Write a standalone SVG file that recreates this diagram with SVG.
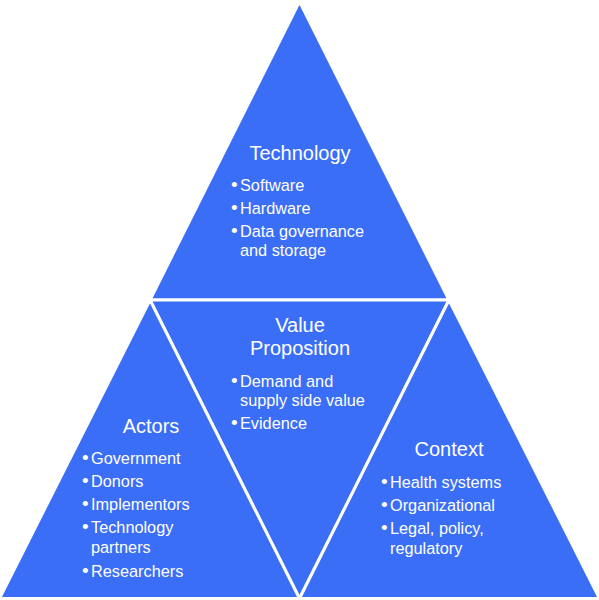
<svg xmlns="http://www.w3.org/2000/svg" width="599" height="600" viewBox="0 0 599 600">
<style>
.tri{fill:#3b6ef6;stroke:#ffffff;stroke-width:3;stroke-linejoin:miter}
.title{font-family:"Liberation Sans",Arial,sans-serif;font-size:20px;fill:#ffffff;text-anchor:middle}
.item{font-family:"Liberation Sans",Arial,sans-serif;font-size:16.3px;fill:#ffffff}
.dot{font-family:"Liberation Sans",Arial,sans-serif;font-size:19px;fill:#ffffff}
</style>
<rect width="599" height="600" fill="#ffffff"/>
<g id="technology">
<polygon class="tri" points="299.5,1.5 150,300 449,300"/>
<text class="title" x="300" y="160">Technology</text>
<text class="item" x="240" y="190.5">Software</text>
<text class="item" x="240" y="213.5">Hardware</text>
<text class="item" x="240" y="236.5">Data governance</text>
<text class="item" x="240" y="255.5">and storage</text>
<text class="dot" x="231" y="190.5">•</text>
<text class="dot" x="231" y="213.5">•</text>
<text class="dot" x="231" y="236.5">•</text>
</g>
<g id="value-proposition">
<polygon class="tri" points="150,300 449,300 299.5,598.5"/>
<text class="title" x="300" y="331.5">Value</text>
<text class="title" x="300" y="354.5">Proposition</text>
<text class="item" x="240" y="386.5">Demand and</text>
<text class="item" x="240" y="406">supply side value</text>
<text class="item" x="240" y="429">Evidence</text>
<text class="dot" x="231" y="386.5">•</text>
<text class="dot" x="231" y="429">•</text>
</g>
<g id="actors">
<polygon class="tri" points="150,300 -0.5,598.5 299.5,598.5"/>
<text class="title" x="151" y="432.5">Actors</text>
<text class="item" x="91" y="464">Government</text>
<text class="item" x="91" y="487">Donors</text>
<text class="item" x="91" y="510">Implementors</text>
<text class="item" x="91" y="533">Technology</text>
<text class="item" x="91" y="553">partners</text>
<text class="item" x="91" y="577">Researchers</text>
<text class="dot" x="82" y="464">•</text>
<text class="dot" x="82" y="487">•</text>
<text class="dot" x="82" y="510">•</text>
<text class="dot" x="82" y="533">•</text>
<text class="dot" x="82" y="577">•</text>
</g>
<g id="context">
<polygon class="tri" points="449,300 299.5,598.5 599.5,598.5"/>
<text class="title" x="449" y="455.5">Context</text>
<text class="item" x="390" y="488">Health systems</text>
<text class="item" x="390" y="511">Organizational</text>
<text class="item" x="390" y="534">Legal, policy,</text>
<text class="item" x="390" y="554">regulatory</text>
<text class="dot" x="381" y="488">•</text>
<text class="dot" x="381" y="511">•</text>
<text class="dot" x="381" y="534">•</text>
</g>
<g id="connectors"></g>
</svg>
